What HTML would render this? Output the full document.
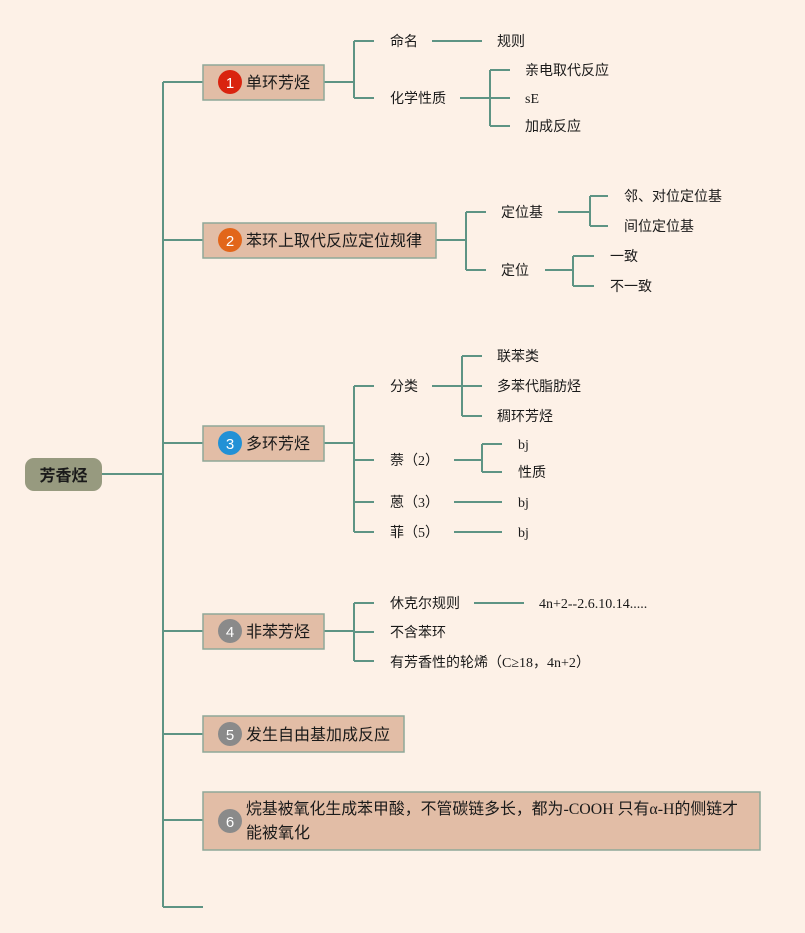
<!DOCTYPE html>
<html><head><meta charset="utf-8"><style>
html,body{margin:0;padding:0;background:#fdf1e7;}
svg{display:block;}
text{font-family:"Liberation Sans","Noto Sans CJK SC",sans-serif;fill:#1a1a1a;}
.s{font-size:14px;}
.m{font-size:16px;}
.n{font-size:15px;fill:#fff;text-anchor:middle;}
.sf{font-family:"Liberation Serif","Noto Serif CJK SC",serif;}
</style></head><body>
<svg width="805" height="933" viewBox="0 0 805 933" xmlns="http://www.w3.org/2000/svg">
<rect width="805" height="933" fill="#fdf1e7"/>
<g fill="none" stroke="#5e9484" stroke-width="2">
<path d="M102 474H163M163 82V907M163 82H203M163 240H203M163 443H203M163 631H203M163 734H203M163 820H203M163 907H203"/>
<path d="M324 82H354M354 41V98M354 41H374M354 98H374M432 41H482M460 98H490M490 70V126M490 70H510M490 98H510M490 126H510"/>
<path d="M436 240H466M466 212V270M466 212H486M466 270H486M558 212H590M590 196V226M590 196H608M590 226H608M545 270H573M573 256V286M573 256H594M573 286H594"/>
<path d="M324 443H354M354 386V532M354 386H374M354 460H374M354 502H374M354 532H374M432 386H462M462 356V416M462 356H482M462 386H482M462 416H482M454 460H482M482 444V472M482 444H502M482 472H502M454 502H502M454 532H502"/>
<path d="M324 631H354M354 603V661M354 603H374M354 632H374M354 661H374M474 603H524"/>
</g>
<rect x="25" y="458" width="77" height="33" rx="9" fill="#979a7f"/>
<text x="63.5" y="481" font-size="16" font-weight="bold" text-anchor="middle">芳香烃</text>
<g fill="#e2bda6" stroke="#8fa898" stroke-width="1.5">
<rect x="203" y="65" width="121" height="35"/>
<rect x="203" y="223" width="233" height="35"/>
<rect x="203" y="426" width="121" height="35"/>
<rect x="203" y="614" width="121" height="35"/>
<rect x="203" y="716" width="201" height="36"/>
<rect x="203" y="792" width="557" height="58"/>
</g>
<circle cx="230" cy="82" r="12" fill="#d9230f"/><text class="n" x="230" y="88">1</text>
<circle cx="230" cy="240" r="12" fill="#e2661a"/><text class="n" x="230" y="246">2</text>
<circle cx="230" cy="443" r="12" fill="#2291d6"/><text class="n" x="230" y="449">3</text>
<circle cx="230" cy="631" r="12" fill="#8a8a8a"/><text class="n" x="230" y="637">4</text>
<circle cx="230" cy="734" r="12" fill="#8a8a8a"/><text class="n" x="230" y="740">5</text>
<circle cx="230" cy="821" r="12" fill="#8a8a8a"/><text class="n" x="230" y="827">6</text>
<text class="m" x="246" y="88">单环芳烃</text>
<text class="m" x="246" y="246">苯环上取代反应定位规律</text>
<text class="m" x="246" y="449">多环芳烃</text>
<text class="m" x="246" y="637">非苯芳烃</text>
<text class="m" x="246" y="740">发生自由基加成反应</text>
<text class="m" x="246" y="814" textLength="492" lengthAdjust="spacingAndGlyphs">烷基被氧化生成苯甲酸，不管碳链多长，都为<tspan class="sf">-COOH </tspan>只有<tspan class="sf">α-H</tspan>的侧链才</text>
<text class="m" x="246" y="838">能被氧化</text>
<g class="s">
<text class="s" x="390" y="46">命名</text>
<text class="s" x="497" y="46">规则</text>
<text class="s" x="390" y="103">化学性质</text>
<text class="s" x="525" y="75">亲电取代反应</text>
<text class="s sf" x="525" y="103">sE</text>
<text class="s" x="525" y="131">加成反应</text>
<text class="s" x="501" y="217">定位基</text>
<text class="s" x="624" y="201">邻、对位定位基</text>
<text class="s" x="624" y="231">间位定位基</text>
<text class="s" x="501" y="275">定位</text>
<text class="s" x="610" y="261">一致</text>
<text class="s" x="610" y="291">不一致</text>
<text class="s" x="390" y="391">分类</text>
<text class="s" x="497" y="361">联苯类</text>
<text class="s" x="497" y="391">多苯代脂肪烃</text>
<text class="s" x="497" y="421">稠环芳烃</text>
<text class="s" x="390" y="465">萘（<tspan class="sf">2</tspan>）</text>
<text class="s sf" x="518" y="449">bj</text>
<text class="s" x="518" y="477">性质</text>
<text class="s" x="390" y="507">蒽（<tspan class="sf">3</tspan>）</text>
<text class="s sf" x="518" y="507">bj</text>
<text class="s" x="390" y="537">菲（<tspan class="sf">5</tspan>）</text>
<text class="s sf" x="518" y="537">bj</text>
<text class="s" x="390" y="608">休克尔规则</text>
<text class="s sf" x="539" y="608">4n+2--2.6.10.14.....</text>
<text class="s" x="390" y="637">不含苯环</text>
<text class="s" x="390" y="667">有芳香性的轮烯（<tspan class="sf">C≥18</tspan>，<tspan class="sf">4n+2</tspan>）</text>
</g>
</svg>
</body></html>
